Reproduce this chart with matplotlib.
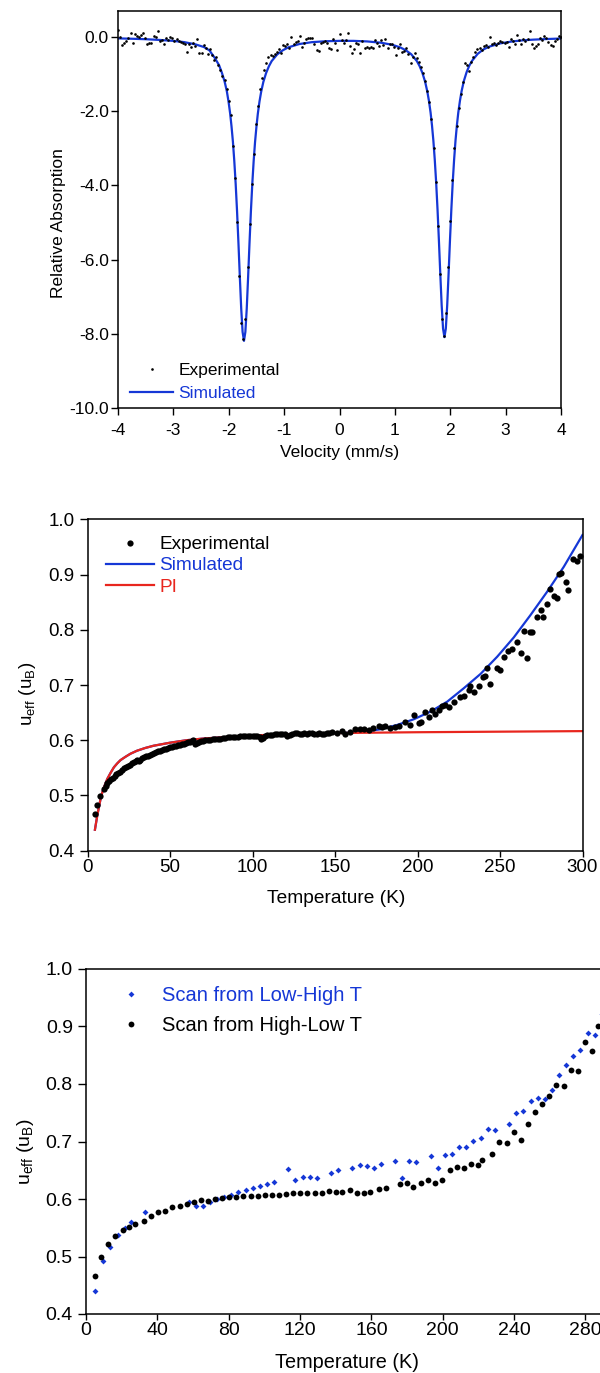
import numpy as np
import matplotlib
matplotlib.use("Agg")
import matplotlib.pyplot as plt
from matplotlib.ticker import MultipleLocator, FormatStrFormatter

plt.rcParams["font.family"] = ["Liberation Sans", "DejaVu Sans"]
plt.rcParams["mathtext.fontset"] = "custom"
plt.rcParams["mathtext.rm"] = "Liberation Sans"
plt.rcParams["mathtext.it"] = "Liberation Sans:italic"
plt.rcParams["axes.unicode_minus"] = False

BLUE = "#1537d6"
RED = "#e8261e"

# ---- panel 1: Mossbauer spectrum (relative absorption, %) ----
ABSORPTION = [
    0.19, -0.01, -0.22, -0.15, -0.10, -0.02, 0.10, -0.15, 0.08, 0.03,
    -0.01, 0.05, 0.10, -0.04, -0.19, -0.15, -0.15, 0.02, -0.01, 0.17,
    -0.10, -0.08, -0.19, -0.04, -0.08, -0.01, -0.04, -0.12, -0.06, -0.10,
    -0.13, -0.17, -0.19, -0.40, -0.19, -0.28, -0.15, -0.25, -0.06, -0.44,
    -0.44, -0.22, -0.31, -0.46, -0.33, -0.49, -0.62, -0.53,
    -0.76, -0.90, -1.05, -1.16, -1.40, -1.72, -2.10, -2.95, -3.80, -5.00,
    -6.45, -7.70, -8.15, -7.60, -6.20, -5.05, -3.95, -3.15, -2.35, -1.85,
    -1.40, -1.10, -0.90, -0.70,
    -0.53, -0.49, -0.51, -0.46, -0.40, -0.33, -0.44, -0.22, -0.24, -0.19,
    -0.31, -0.01, -0.19, -0.14, -0.10, 0.03, -0.28, -0.17, -0.06, -0.04,
    -0.04, -0.04, -0.20, -0.35, -0.37, -0.15, -0.13, -0.10, -0.17, -0.31,
    -0.33, -0.05, -0.15, -0.35, 0.07, -0.08, -0.15, -0.08, 0.10,
    -0.24, -0.44, -0.33, -0.17, -0.19, -0.44, -0.12, -0.31, -0.26, -0.31,
    -0.28, -0.31, -0.08, -0.15, -0.24, -0.08, -0.22, -0.06, -0.31, -0.19,
    -0.18, -0.28, -0.49, -0.31, -0.19, -0.40, -0.37, -0.30, -0.46, -0.69,
    -0.55, -0.44, -0.58, -0.67, -0.80, -0.98, -1.20,
    -1.45, -1.75, -2.22, -3.00, -3.90, -5.10, -6.40, -7.60, -8.05, -7.45,
    -6.20, -4.95, -3.85, -3.00, -2.40, -1.92, -1.55, -1.22,
    -0.71, -0.755, -0.91, -0.665, -0.55, -0.395, -0.333, -0.306, -0.35, -0.243,
    -0.216, -0.279, -0.009, -0.189, -0.171, -0.22, -0.153, -0.099, -0.126, -0.171,
    -0.126, -0.261, -0.05, -0.099, -0.189, 0.054, -0.081, -0.189, -0.063, -0.12,
    -0.063, 0.171, -0.189, -0.306, -0.243, -0.189, -0.02, -0.081, 0.027, -0.036,
    -0.126, -0.216, -0.243, -0.10, -0.063, 0.027, -0.009,
]
# channels are evenly spaced over the -4 .. 4 mm/s sweep
VELOCITY = np.linspace(-4.0, 4.0, len(ABSORPTION))

SIM_VELOCITY = [
    -4.00, -3.75, -3.50, -3.25, -3.00, -2.80, -2.60, -2.45, -2.35, -2.25,
    -2.175, -2.125, -2.075, -2.035, -2.005, -1.975, -1.95, -1.925, -1.90, -1.875,
    -1.85, -1.825, -1.80, -1.775, -1.75, -1.725, -1.70, -1.675, -1.65, -1.625,
    -1.60, -1.575, -1.55, -1.525, -1.50, -1.475, -1.445, -1.415, -1.375, -1.325,
    -1.275, -1.225, -1.125, -1.025, -0.925, -0.725, -0.50, -0.25, 0.00, 0.25,
    0.50, 0.75, 0.95, 1.095, 1.195, 1.295, 1.395, 1.445, 1.495, 1.545,
    1.585, 1.615, 1.645, 1.67, 1.695, 1.72, 1.745, 1.77, 1.795, 1.82,
    1.845, 1.87, 1.895, 1.92, 1.945, 1.97, 1.995, 2.02, 2.045, 2.07,
    2.095, 2.12, 2.145, 2.175, 2.205, 2.245, 2.295, 2.345, 2.395, 2.495,
    2.595, 2.695, 2.895, 3.10, 3.30, 3.50, 3.75, 4.00,
]
SIM_ABSORPTION = [
    -0.038, -0.048, -0.060, -0.080, -0.105, -0.14, -0.20, -0.27, -0.36, -0.57,
    -0.76, -0.96, -1.20, -1.46, -1.73, -2.06, -2.41, -2.82, -3.34, -3.96,
    -4.70, -5.55, -6.46, -7.32, -7.95, -8.19, -7.95, -7.32, -6.46, -5.55,
    -4.70, -3.96, -3.34, -2.83, -2.42, -2.07, -1.74, -1.48, -1.21, -0.97,
    -0.79, -0.65, -0.47, -0.36, -0.28, -0.19, -0.14, -0.115, -0.105, -0.105,
    -0.12, -0.155, -0.21, -0.28, -0.355, -0.465, -0.645, -0.78, -0.96, -1.20,
    -1.465, -1.72, -2.04, -2.38, -2.79, -3.30, -3.91, -4.64, -5.48, -6.38,
    -7.23, -7.86, -8.09, -7.86, -7.23, -6.38, -5.48, -4.64, -3.91, -3.30,
    -2.79, -2.38, -2.04, -1.72, -1.46, -1.19, -0.95, -0.77, -0.64, -0.455,
    -0.34, -0.265, -0.175, -0.125, -0.092, -0.072, -0.055, -0.042,
]

# ---- panel 2: u_eff vs T with simulation and PI contribution ----
T2_EXP = [
    4.6, 5.6, 7.6, 9.8, 11.0, 11.8, 13.1, 14.2, 15.3, 16.4,
    17.5, 18.6, 19.8, 21.0, 22.2, 23.4, 24.6, 25.8, 27.0, 28.3,
    29.2, 30.0, 31.0, 32.0, 33.2, 34.4, 35.6, 36.8, 38.0, 39.2,
    40.4, 41.6, 42.8, 44.0, 45.2, 46.4, 47.6, 48.8, 50.0, 51.2,
    52.4, 53.6, 54.8, 56.0, 57.2, 58.4, 59.6, 60.8, 62.0, 63.2,
    64.0, 65.2, 66.4, 67.6, 68.8, 70.0, 71.5, 73.0, 74.5, 76.0,
    77.5, 79.0, 80.5, 82.0, 83.5, 85.0, 86.5, 88.0, 89.5, 91.0,
    92.5, 94.0, 95.5, 97.0, 98.5, 100.0, 101.5, 103.0, 104.3, 105.2,
    106.2, 107.5, 109.0, 110.5, 112.0, 113.5, 115.0, 116.5, 118.0, 119.5,
    121.0, 122.5, 124.0, 125.5, 127.0, 128.5, 130.0, 131.5, 133.0, 134.5,
    136.0, 137.5, 139.0, 140.5, 142.0, 143.5, 145.0, 146.5,
    148.2, 151.2, 154.2, 156.2, 159.3, 162.3, 165.4, 167.4, 170.5, 173.0,
    176.5, 178.5, 180.5, 183.5, 186.6, 188.6, 192.7, 195.7, 197.7, 200.7,
    202.2, 204.4, 206.8, 208.8, 210.9, 212.9, 214.9, 216.9, 219.0, 222.0,
    226.0, 228.0, 231.1, 232.1, 234.5, 237.1, 239.8, 241.2, 242.2, 244.2,
    248.3, 250.3, 252.4, 254.8, 257.0, 260.4, 262.5, 264.5, 266.6, 268.1,
    269.6, 272.6, 274.6, 275.8, 278.3, 280.3, 282.7, 284.4, 285.8, 287.2,
    289.8, 291.4, 294.5, 296.5, 298.5,
]
MU2_EXP = [
    0.466, 0.482, 0.499, 0.511, 0.518, 0.522, 0.526, 0.529, 0.532, 0.535,
    0.538, 0.541, 0.543, 0.546, 0.549, 0.551, 0.553, 0.556, 0.558, 0.561,
    0.563, 0.565, 0.562, 0.564, 0.567, 0.569, 0.571, 0.572, 0.574, 0.575,
    0.577, 0.578, 0.580, 0.581, 0.582, 0.584, 0.585, 0.586, 0.587, 0.588,
    0.589, 0.590, 0.591, 0.592, 0.593, 0.594, 0.595, 0.596, 0.597, 0.599,
    0.600, 0.593, 0.595, 0.597, 0.598, 0.599, 0.600, 0.600, 0.601, 0.602,
    0.602, 0.603, 0.603, 0.604, 0.604, 0.605, 0.605, 0.606, 0.606, 0.606,
    0.607, 0.607, 0.607, 0.608, 0.608, 0.608, 0.608, 0.608, 0.606, 0.602,
    0.604, 0.608, 0.609, 0.609, 0.610, 0.611, 0.611, 0.612, 0.611, 0.611,
    0.608, 0.610, 0.612, 0.614, 0.613, 0.612, 0.612, 0.613, 0.612, 0.613,
    0.614, 0.612, 0.612, 0.613, 0.612, 0.611, 0.613, 0.614,
    0.6154, 0.6125, 0.6167, 0.6113, 0.6143, 0.6203, 0.6198, 0.6203, 0.619, 0.6215,
    0.6257, 0.6234, 0.6263, 0.6216, 0.6234, 0.6257, 0.6325, 0.627, 0.6457, 0.6306,
    0.633, 0.6505, 0.6415, 0.6547, 0.647, 0.6547, 0.662, 0.6632, 0.6607, 0.6697,
    0.6788, 0.680, 0.691, 0.6987, 0.6873, 0.698, 0.715, 0.7163, 0.7313, 0.7018,
    0.730, 0.7271, 0.7512, 0.7615, 0.7646, 0.7784, 0.7574, 0.7977, 0.7494, 0.7965,
    0.7965, 0.8236, 0.8358, 0.8226, 0.846, 0.8733, 0.8611, 0.857, 0.901, 0.9023,
    0.8865, 0.872, 0.928, 0.9245, 0.9341,
]
T2_PI = [4.5, 5, 6, 7, 8, 9, 10, 12, 14, 16, 18, 20, 23, 26, 30, 35, 40,
         50, 60, 70, 80, 100, 120, 150, 200, 250, 300]
MU2_PI = [0.438, 0.447, 0.465, 0.480, 0.495, 0.506, 0.515, 0.530, 0.541,
          0.551, 0.558, 0.564, 0.570, 0.5755, 0.581, 0.586, 0.590, 0.5955,
          0.600, 0.603, 0.605, 0.6085, 0.611, 0.613, 0.6145, 0.6155, 0.6165]
T2_SIM = [4.5, 5, 6, 7, 8, 9, 10, 12, 14, 16, 18, 20, 23, 26, 30, 35, 40,
          50, 60, 70, 80, 100, 120, 140, 150, 157, 167.4, 177.5, 187.6,
          197.7, 207.8, 218, 228, 238.2, 248.3, 258.4, 268.5, 278.6, 288.7, 300]
MU2_SIM = [0.438, 0.447, 0.465, 0.480, 0.495, 0.506, 0.515, 0.530, 0.541,
           0.551, 0.558, 0.564, 0.570, 0.5755, 0.581, 0.586, 0.590, 0.5955,
           0.600, 0.603, 0.605, 0.6085, 0.611, 0.6125, 0.613, 0.6135, 0.6154,
           0.6198, 0.6276, 0.6379, 0.6517, 0.6698, 0.694, 0.720, 0.7512,
           0.7863, 0.8267, 0.869, 0.9142, 0.9716]

# ---- panel 3: two scan directions ----
T3_LOW_HIGH = [
    5.0, 9.5, 13.5, 17.9, 21.7, 25.4, 33.3, 57.9, 61.7, 65.4,
    69.5, 73.5, 77.4, 81.5, 85.4, 89.5, 93.5, 97.4, 101.5, 105.4,
    113.5, 117.4, 121.5, 125.4, 129.3, 137.4, 141.5, 149.3, 153.5, 157.4,
    161.3, 165.2, 173.3, 177.4, 181.3, 185.2, 193.5, 197.2, 201.3, 205.2,
    209.3, 213.3, 217.2, 221.3, 225.2, 229.2, 237.2, 241.3, 245.2, 249.3,
    253.3, 257.2, 261.1, 265.2, 269.2, 273.3, 277.2, 281.3, 285.2, 289.4,
]
MU3_LOW_HIGH = [
    0.440, 0.492, 0.516, 0.537, 0.550, 0.560, 0.577, 0.594, 0.588, 0.588,
    0.5948, 0.5995, 0.604, 0.6075, 0.6122, 0.6157, 0.619, 0.623, 0.626, 0.629,
    0.6516, 0.6336, 0.6388, 0.638, 0.636, 0.6447, 0.651, 0.6533, 0.6597, 0.658,
    0.654, 0.661, 0.6656, 0.637, 0.6667, 0.664, 0.674, 0.6545, 0.676, 0.678,
    0.690, 0.6907, 0.7009, 0.706, 0.721, 0.7206, 0.730, 0.750, 0.7525, 0.771,
    0.776, 0.774, 0.789, 0.816, 0.833, 0.849, 0.860, 0.888, 0.8855, 0.922,
]
T3_HIGH_LOW = [
    5.0, 8.4, 12.5, 16.4, 20.6, 23.9, 27.3, 32.3, 36.4, 40.4,
    44.3, 48.4, 52.5, 56.4, 60.4, 64.5, 68.4, 72.5, 76.4, 80.4,
    84.3, 88.2, 92.3, 96.3, 100.4, 104.3, 108.2, 112.3, 116.3, 120.2,
    124.1, 128.2, 132.1, 136.3, 140.2, 143.6, 148.2, 152.1, 156.1, 159.4,
    164.1, 168.0, 176.1, 180.0, 183.4, 188.0, 192.0, 195.9, 199.8, 203.9,
    207.9, 211.8, 215.9, 219.8, 222.2, 227.7, 231.8, 236.3, 239.8, 243.7,
    247.9, 251.8, 255.9, 259.8, 263.7, 267.9, 272.0, 275.9, 279.8, 283.7,
    287.1,
]
MU3_HIGH_LOW = [
    0.466, 0.499, 0.522, 0.536, 0.546, 0.552, 0.5565, 0.562, 0.571, 0.577,
    0.580, 0.5856, 0.5884, 0.5918, 0.5942, 0.598, 0.5965, 0.6005, 0.601, 0.6035,
    0.604, 0.605, 0.605, 0.6055, 0.607, 0.607, 0.6065, 0.609, 0.611, 0.610,
    0.610, 0.610, 0.610, 0.6134, 0.612, 0.612, 0.616, 0.610, 0.610, 0.613,
    0.617, 0.619, 0.6255, 0.6273, 0.621, 0.6273, 0.6325, 0.6273, 0.6336, 0.650,
    0.656, 0.6533, 0.6614, 0.6597, 0.667, 0.6777, 0.6997, 0.698, 0.716, 0.702,
    0.730, 0.7508, 0.765, 0.779, 0.7977, 0.796, 0.824, 0.8226, 0.8736, 0.8568,
    0.9014,
]

MU_LABEL = r"u$_{\mathrm{eff}}$ (u$_{\mathrm{B}}$)"

W, H = 600.0, 1373.0


def box(left, top, right, bottom):
    """axes rect from pixel edges (top-left origin)"""
    return [left / W, 1 - bottom / H, (right - left) / W, (bottom - top) / H]


def anchor(x, y):
    return (x / W, 1 - y / H)


fig = plt.figure(figsize=(W / 100, H / 100), dpi=100)

# ---- panel 1 ----
ax1 = fig.add_axes(box(118, 11, 561, 408))
sim1, = ax1.plot(SIM_VELOCITY, SIM_ABSORPTION, "-", color=BLUE, lw=1.6,
                 label="Simulated")
exp1, = ax1.plot(VELOCITY, ABSORPTION, "o", color="black", ms=1.9, mew=0,
                 label="Experimental")
ax1.set_xlim(-4, 4)
ax1.set_ylim(-10, 0.7)
ax1.xaxis.set_major_locator(MultipleLocator(1))
ax1.yaxis.set_major_locator(MultipleLocator(2))
ax1.yaxis.set_major_formatter(FormatStrFormatter("%.1f"))
ax1.tick_params(direction="out", length=5, width=1, labelsize=12.5)
ax1.tick_params(axis="y", pad=1.5)
ax1.tick_params(axis="x", pad=6)
ax1.set_xlabel("Velocity (mm/s)", fontsize=12.5, va="center")
ax1.xaxis.set_label_coords(0.501, -0.111)
ax1.set_ylabel("Relative Absorption", fontsize=12.5, va="center")
ax1.yaxis.set_label_coords(-0.134, 0.467)
ax1.legend(handles=[exp1, sim1], loc="upper left",
           bbox_to_anchor=anchor(130, 363), bbox_transform=fig.transFigure,
           frameon=False, borderpad=0, borderaxespad=0, fontsize=12.5,
           handlelength=2.5, handletextpad=0.3, labelspacing=0.45,
           labelcolor=["black", BLUE])

# ---- panel 2 ----
ax2 = fig.add_axes(box(87.5, 519.3, 582.5, 850.7))
sim2, = ax2.plot(T2_SIM, MU2_SIM, "-", color=BLUE, lw=1.6, label="Simulated")
pi2, = ax2.plot(T2_PI, MU2_PI, "-", color=RED, lw=1.6, label="PI")
exp2, = ax2.plot(T2_EXP, MU2_EXP, "o", color="black", ms=4.5, mew=0,
                 label="Experimental")
ax2.set_xlim(0, 300)
ax2.set_ylim(0.4, 1.0)
ax2.xaxis.set_major_locator(MultipleLocator(50))
ax2.yaxis.set_major_locator(MultipleLocator(0.1))
ax2.yaxis.set_major_formatter(FormatStrFormatter("%.1f"))
ax2.tick_params(direction="out", width=1, labelsize=13.5)
ax2.tick_params(axis="y", length=6, pad=3.5)
ax2.tick_params(axis="x", length=4.5, pad=1.5)
ax2.set_xlabel("Temperature (K)", fontsize=13.8, va="center")
ax2.xaxis.set_label_coords(0.502, -0.143)
ax2.set_ylabel(MU_LABEL, fontsize=13.5, va="center")
ax2.yaxis.set_label_coords(-0.122, 0.473)
ax2.legend(handles=[exp2, sim2, pi2], loc="upper left",
           bbox_to_anchor=anchor(106, 536), bbox_transform=fig.transFigure,
           frameon=False, borderpad=0, borderaxespad=0, fontsize=13.7,
           handlelength=2.5, handletextpad=0.3, labelspacing=0.2,
           labelcolor=["black", BLUE, RED])

# ---- panel 3 (right edge runs off the page, as in the source) ----
ax3 = fig.add_axes(box(86, 969, 621, 1314))
lh3, = ax3.plot(T3_LOW_HIGH, MU3_LOW_HIGH, "D", color=BLUE, ms=3.0, mew=0,
                label="Scan from Low-High T")
hl3, = ax3.plot(T3_HIGH_LOW, MU3_HIGH_LOW, "o", color="black", ms=4.2, mew=0,
                label="Scan from High-Low T")
ax3.set_xlim(0, 300)
ax3.set_ylim(0.4, 1.0)
ax3.xaxis.set_major_locator(MultipleLocator(40))
ax3.yaxis.set_major_locator(MultipleLocator(0.1))
ax3.yaxis.set_major_formatter(FormatStrFormatter("%.1f"))
ax3.tick_params(direction="out", width=1, labelsize=14)
ax3.tick_params(axis="y", length=6, pad=3.5)
ax3.tick_params(axis="x", length=4.5, pad=1.5)
ax3.set_xlabel("Temperature (K)", fontsize=14.3, va="center")
ax3.xaxis.set_label_coords(0.487, -0.142)
ax3.set_ylabel(MU_LABEL, fontsize=14, va="center")
ax3.yaxis.set_label_coords(-0.114, 0.471)
ax3.legend(handles=[lh3, hl3], loc="upper left",
           bbox_to_anchor=anchor(111, 986), bbox_transform=fig.transFigure,
           frameon=False, borderpad=0, borderaxespad=0, fontsize=14.5,
           handlelength=2.0, handletextpad=0.52, labelspacing=0.53,
           labelcolor=[BLUE, "black"])

for ax in (ax1, ax2, ax3):
    for sp in ax.spines.values():
        sp.set_linewidth(1.1)

fig.savefig("out.png", dpi=100)
